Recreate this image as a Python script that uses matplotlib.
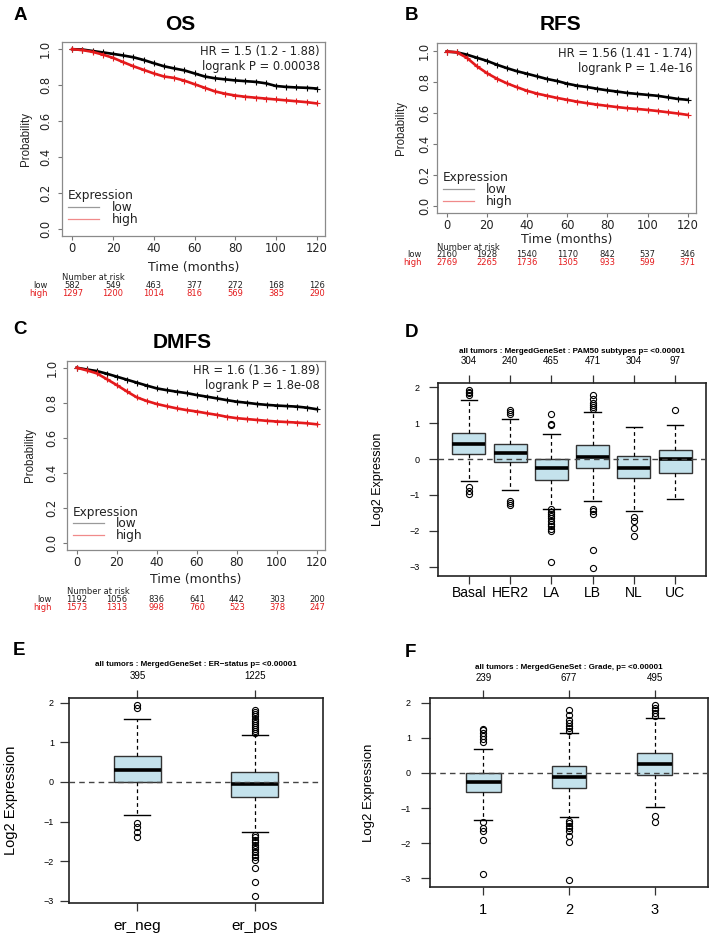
import matplotlib
matplotlib.use('Agg')
import matplotlib.pyplot as plt
from matplotlib.lines import Line2D
from matplotlib.transforms import blended_transform_factory

# ---- data ----
months = [0, 5, 10, 15, 20, 25, 30, 35, 40, 45, 50, 55, 60,
          65, 70, 75, 80, 85, 90, 95, 100, 105, 110, 115, 120]

os_low = [1.0, 0.998, 0.99, 0.982, 0.974, 0.965, 0.955, 0.94, 0.922, 0.905, 0.893, 0.882, 0.865,
          0.848, 0.838, 0.832, 0.826, 0.822, 0.818, 0.81, 0.795, 0.79, 0.787, 0.785, 0.781]
os_high = [1.0, 0.995, 0.985, 0.97, 0.952, 0.928, 0.905, 0.885, 0.865, 0.848, 0.84, 0.825, 0.805,
           0.785, 0.765, 0.752, 0.742, 0.735, 0.73, 0.725, 0.72, 0.715, 0.71, 0.705, 0.698]
rfs_low = [0.995, 0.99, 0.975, 0.955, 0.935, 0.91, 0.888, 0.868, 0.852, 0.835, 0.818, 0.805, 0.788,
           0.775, 0.766, 0.755, 0.745, 0.737, 0.728, 0.722, 0.716, 0.71, 0.70, 0.69, 0.684]
rfs_high = [0.995, 0.99, 0.955, 0.90, 0.856, 0.82, 0.79, 0.765, 0.742, 0.724, 0.71, 0.696, 0.684,
            0.672, 0.662, 0.653, 0.645, 0.637, 0.63, 0.625, 0.619, 0.612, 0.604, 0.596, 0.587]
dmfs_low = [1.0, 0.99, 0.981, 0.966, 0.949, 0.932, 0.915, 0.898, 0.882, 0.872, 0.863, 0.855, 0.844,
            0.835, 0.825, 0.815, 0.806, 0.80, 0.793, 0.788, 0.784, 0.781, 0.778, 0.772, 0.763]
dmfs_high = [1.0, 0.985, 0.968, 0.935, 0.901, 0.865, 0.831, 0.81, 0.793, 0.78, 0.768, 0.758, 0.75,
             0.74, 0.731, 0.72, 0.712, 0.707, 0.702, 0.697, 0.693, 0.69, 0.687, 0.683, 0.677]

risk_times = [0, 20, 40, 60, 80, 100, 120]
os_risk_low = [582, 549, 463, 377, 272, 168, 126]
os_risk_high = [1297, 1200, 1014, 816, 569, 385, 290]
rfs_risk_low = [2160, 1928, 1540, 1170, 842, 537, 346]
rfs_risk_high = [2769, 2265, 1736, 1305, 933, 599, 371]
dmfs_risk_low = [1192, 1056, 836, 641, 442, 303, 200]
dmfs_risk_high = [1573, 1313, 998, 760, 523, 378, 247]

# boxplot stats: q1, med, q3, whislo, whishi, outliers
pam50_labels = ['Basal', 'HER2', 'LA', 'LB', 'NL', 'UC']
pam50_n = [304, 240, 465, 471, 304, 97]
pam50_q1 = [0.13, -0.09, -0.57, -0.24, -0.54, -0.38]
pam50_med = [0.42, 0.16, -0.24, 0.07, -0.24, 0.0]
pam50_q3 = [0.74, 0.42, -0.01, 0.39, 0.08, 0.26]
pam50_lo = [-0.60, -0.86, -1.38, -1.16, -1.46, -1.10]
pam50_hi = [1.65, 1.11, 0.71, 1.31, 0.90, 0.96]
pam50_out = [[1.93, 1.88, 1.83, 1.78, -0.77, -0.88, -0.98],
             [1.37, 1.32, 1.27, -1.17, -1.22, -1.27],
             [1.27, 0.99, 0.96, -1.40, -1.47, -1.53, -1.59, -1.65, -1.72, -1.80, -1.87, -1.95, -2.00, -2.88],
             [1.78, 1.67, 1.57, 1.52, 1.46, 1.41, -1.38, -1.45, -1.53, -2.53, -3.03],
             [-1.61, -1.72, -1.91, -2.15],
             [1.38]]

er_labels = ['er_neg', 'er_pos']
er_n = [395, 1225]
er_q1 = [-0.01, -0.38]
er_med = [0.31, -0.04]
er_q3 = [0.66, 0.24]
er_lo = [-0.84, -1.27]
er_hi = [1.58, 1.19]
er_out = [[1.93, 1.87, -1.03, -1.13, -1.26, -1.39],
          [1.81, 1.77, 1.72, 1.66, 1.60, 1.55, 1.49, 1.44, 1.38, 1.33, 1.28, 1.23,
           -1.34, -1.40, -1.46, -1.52, -1.58, -1.64, -1.70, -1.77, -1.83, -1.90, -1.97,
           -2.16, -2.53, -2.87]]

grade_labels = ['1', '2', '3']
grade_n = [239, 677, 495]
grade_q1 = [-0.55, -0.43, -0.07]
grade_med = [-0.27, -0.12, 0.25]
grade_q3 = [0.0, 0.20, 0.58]
grade_lo = [-1.35, -1.26, -0.98]
grade_hi = [0.69, 1.14, 1.56]
grade_out = [[1.26, 1.21, 1.13, 1.05, 0.97, 0.88, -1.40, -1.58, -1.65, -1.90, -2.88],
             [1.80, 1.64, 1.52, 1.41, 1.34, 1.27, 1.19, -1.38, -1.44, -1.52, -1.58, -1.65, -1.80, -1.96, -3.05],
             [1.93, 1.86, 1.78, 1.71, 1.61, -1.23, -1.39]]

RED = '#e41a1c'
BOX_C = '#c4e2ec'
KM_FONT = 'DejaVu Sans'
R_FONT = 'Liberation Sans'

W, H = 711, 946
fig = plt.figure(figsize=(W / 100, H / 100), dpi=100)


def add_ax(l, t, r, b):
    return fig.add_axes([l / W, 1 - b / H, (r - l) / W, (b - t) / H])


def fy(py):
    return 1 - py / H


def km_panel(ax, low, high, hr, pval, risk_low, risk_high, cfg):
    ax.plot(months, low, color='black', lw=1.9, marker='+', ms=3.8, mew=0.8)
    ax.plot(months, high, color=RED, lw=1.9, marker='+', ms=3.8, mew=0.8)
    ax.set_xlim(-5, 124)
    ax.set_ylim(*cfg['ylim'])
    ax.set_xticks([0, 20, 40, 60, 80, 100, 120])
    ax.set_yticks([0.0, 0.2, 0.4, 0.6, 0.8, 1.0])
    ax.set_yticklabels(['0.0', '0.2', '0.4', '0.6', '0.8', '1.0'], rotation=90, va='center')
    for s in ax.spines.values():
        s.set_color('#8a8a8a')
        s.set_linewidth(0.9)
    ax.tick_params(axis='x', length=3, width=0.8, color='#777', pad=1.5,
                   labelsize=8.3, labelcolor='#222')
    ax.tick_params(axis='y', length=3, width=0.8, color='#777', pad=cfg['ypad'],
                   labelsize=8.3, labelcolor='#222')
    for lab in ax.get_xticklabels() + ax.get_yticklabels():
        lab.set_family(KM_FONT)
    ax.set_xlabel('Time (months)', fontsize=9, family=KM_FONT, color='#222')
    ax.xaxis.set_label_coords(0.5, cfg['xlab_y'])
    ax.set_ylabel('Probability', fontsize=8.3, family=R_FONT, color='#222')
    ax.yaxis.set_label_coords(cfg['ylab_x'], 0.5)
    ax.text(cfg['hr_x'], cfg['hr_y'], 'HR = %s\nlogrank P = %s' % (hr, pval),
            transform=ax.transAxes, ha='right', va='top', fontsize=8.3,
            family=KM_FONT, color='#222', linespacing=1.15)
    handles = [Line2D([], [], color='#9a9a9a', lw=0.9), Line2D([], [], color='#f08a8a', lw=0.9)]
    leg = ax.legend(handles, ['low', 'high'], title='Expression', loc='upper left',
                    bbox_to_anchor=cfg['leg'], frameon=False, alignment='left',
                    prop={'family': KM_FONT, 'size': 8.7}, title_fontproperties={'family': KM_FONT, 'size': 8.7},
                    handlelength=2.6, handletextpad=1.0, labelspacing=-0.1,
                    borderpad=0, borderaxespad=0)
    for txt in leg.get_texts():
        txt.set_color('#222')
    leg.get_title().set_color('#222')
    # number at risk table
    trans = blended_transform_factory(ax.transData, fig.transFigure)
    trans_a = blended_transform_factory(ax.transAxes, fig.transFigure)
    ax.text(0, fy(cfg['nar_y']), 'Number at risk', transform=trans_a, ha='left', va='center',
            fontsize=6, family=KM_FONT, color='#222')
    for tt, nl, nh in zip(risk_times, risk_low, risk_high):
        ax.text(tt, fy(cfg['low_y']), str(nl), transform=trans, ha='center', va='center',
                fontsize=6, family=KM_FONT, color='#222')
        ax.text(tt, fy(cfg['high_y']), str(nh), transform=trans, ha='center', va='center',
                fontsize=6, family=KM_FONT, color=RED)
    fig.text(cfg['rl_x'] / W, fy(cfg['low_y']), 'low', ha='right', va='center',
             fontsize=6, family=KM_FONT, color='#222')
    fig.text(cfg['rl_x'] / W, fy(cfg['high_y']), 'high', ha='right', va='center',
             fontsize=6, family=KM_FONT, color=RED)


def box_panel(ax, labels, n, q1, med, q3, lo, hi, out, cfg):
    stats = []
    for i in range(len(labels)):
        stats.append(dict(label=labels[i], q1=q1[i], med=med[i], q3=q3[i],
                          whislo=lo[i], whishi=hi[i], fliers=out[i]))
    pos = list(range(1, len(labels) + 1))
    ax.bxp(stats, positions=pos, widths=cfg['w'], capwidths=cfg['cw'], patch_artist=True,
           boxprops=dict(facecolor=BOX_C, edgecolor='#333333', linewidth=1.0),
           medianprops=dict(color='black', linewidth=2.6, solid_capstyle='butt'),
           whiskerprops=dict(color='black', linewidth=0.9, linestyle=(0, (3, 2.5))),
           capprops=dict(color='black', linewidth=1.0),
           flierprops=dict(marker='o', markerfacecolor='none', markeredgecolor='black',
                           markersize=4.4, markeredgewidth=0.8))
    ax.axhline(0, color='#444444', lw=1.0, ls=(0, (4, 3)), zorder=5)
    ax.set_xlim(*cfg['xlim'])
    ax.set_ylim(*cfg['ylim'])
    ax.set_yticks([-3, -2, -1, 0, 1, 2])
    ax.set_yticklabels(['\u22123', '\u22122', '\u22121', '0', '1', '2'])
    ax.set_xticks(pos)
    ax.set_xticklabels(labels)
    for s in ax.spines.values():
        s.set_color('#222222')
        s.set_linewidth(1.2)
    ax.tick_params(axis='y', length=6.5, width=0.9, color='#333', pad=cfg['ypad'], labelsize=6.5)
    ax.tick_params(axis='x', length=6, width=0.9, color='#333', pad=cfg['xpad'], labelsize=cfg['xfs'])
    for lab in ax.get_xticklabels() + ax.get_yticklabels():
        lab.set_family(R_FONT)
    top = ax.secondary_xaxis('top')
    top.set_xticks(pos)
    top.set_xticklabels([str(v) for v in n])
    top.tick_params(length=6, width=0.9, color='#333', pad=cfg['tpad'], labelsize=7)
    top.spines['top'].set_visible(False)
    for lab in top.get_xticklabels():
        lab.set_family(R_FONT)
    ax.set_ylabel('Log2 Expression', fontsize=cfg['yfs'], family=R_FONT)
    ax.yaxis.set_label_coords(cfg['ylab_x'], 0.5)
    trans_a = blended_transform_factory(ax.transAxes, fig.transFigure)
    ax.text(0.5, fy(cfg['title_y']), cfg['title'], transform=trans_a, ha='center', va='baseline',
            fontsize=5.8, fontweight='bold', family=R_FONT)


# ---- A: OS ----
axA = add_ax(62, 42, 325, 236)
km_panel(axA, os_low, os_high, '1.5 (1.2 - 1.88)', '0.00038', os_risk_low, os_risk_high,
         dict(ylim=(-0.04, 1.04), ypad=4, xlab_y=-0.131, ylab_x=-0.114, hr_x=0.981, hr_y=0.982,
              leg=(0.023, 0.241), nar_y=277, low_y=286, high_y=294, rl_x=48))

# ---- B: RFS ----
axB = add_ax(436.7, 43, 695.7, 213)
km_panel(axB, rfs_low, rfs_high, '1.56 (1.41 - 1.74)', '1.4e-16', rfs_risk_low, rfs_risk_high,
         dict(ylim=(-0.045, 1.05), ypad=1, xlab_y=-0.115, ylab_x=-0.116, hr_x=0.988, hr_y=0.974,
              leg=(0.023, 0.245), nar_y=247, low_y=254.5, high_y=262, rl_x=422))

# ---- C: DMFS ----
axC = add_ax(66.7, 360.7, 325, 550)
km_panel(axC, dmfs_low, dmfs_high, '1.6 (1.36 - 1.89)', '1.8e-08', dmfs_risk_low, dmfs_risk_high,
         dict(ylim=(-0.04, 1.04), ypad=3, xlab_y=-0.124, ylab_x=-0.12, hr_x=0.978, hr_y=0.981,
              leg=(0.023, 0.235), nar_y=591, low_y=599, high_y=607, rl_x=52))

# ---- D: PAM50 ----
axD = add_ax(438.3, 382.7, 705.7, 575.7)
box_panel(axD, pam50_labels, pam50_n, pam50_q1, pam50_med, pam50_q3, pam50_lo, pam50_hi, pam50_out,
          dict(w=0.8, cw=0.4, xlim=(0.26, 6.74), ylim=(-3.25, 2.13), ypad=7, xpad=1.6, xfs=10,
               tpad=6, yfs=9, ylab_x=-0.203, title_y=353,
               title='all tumors : MergedGeneSet : PAM50 subtypes p= <0.00001'))

# ---- E: ER status ----
axE = add_ax(69.3, 698.3, 322.7, 903.3)
box_panel(axE, er_labels, er_n, er_q1, er_med, er_q3, er_lo, er_hi, er_out,
          dict(w=0.4, cw=0.22, xlim=(0.42, 2.58), ylim=(-3.06, 2.11), ypad=4.5, xpad=5, xfs=11,
               tpad=6.5, yfs=10.5, ylab_x=-0.201, title_y=666,
               title='all tumors : MergedGeneSet : ER\u2212status p= <0.00001'))

# ---- F: Grade ----
axF = add_ax(430.3, 698.3, 707.7, 886.7)
box_panel(axF, grade_labels, grade_n, grade_q1, grade_med, grade_q3, grade_lo, grade_hi, grade_out,
          dict(w=0.4, cw=0.21, xlim=(0.38, 3.62), ylim=(-3.24, 2.125), ypad=7.5, xpad=5.4, xfs=10.5,
               tpad=5, yfs=9.5, ylab_x=-0.198, title_y=669,
               title='all tumors : MergedGeneSet : Grade, p= <0.00001'))

# panel letters and KM titles
for letter, x, y in [('A', 20.5, 20), ('B', 411, 20), ('C', 20, 334),
                     ('D', 411, 336.7), ('E', 19.5, 655), ('F', 410, 656.7)]:
    fig.text(x / W, fy(y), letter, ha='center', va='baseline', fontsize=13.5,
             fontweight='bold', family=R_FONT)
for title, x, y in [('OS', 180, 30), ('RFS', 560.5, 30), ('DMFS', 182, 348.3)]:
    fig.text(x / W, fy(y), title, ha='center', va='baseline', fontsize=15,
             fontweight='bold', family=R_FONT)

fig.savefig('out.png', dpi=100, facecolor='white')
